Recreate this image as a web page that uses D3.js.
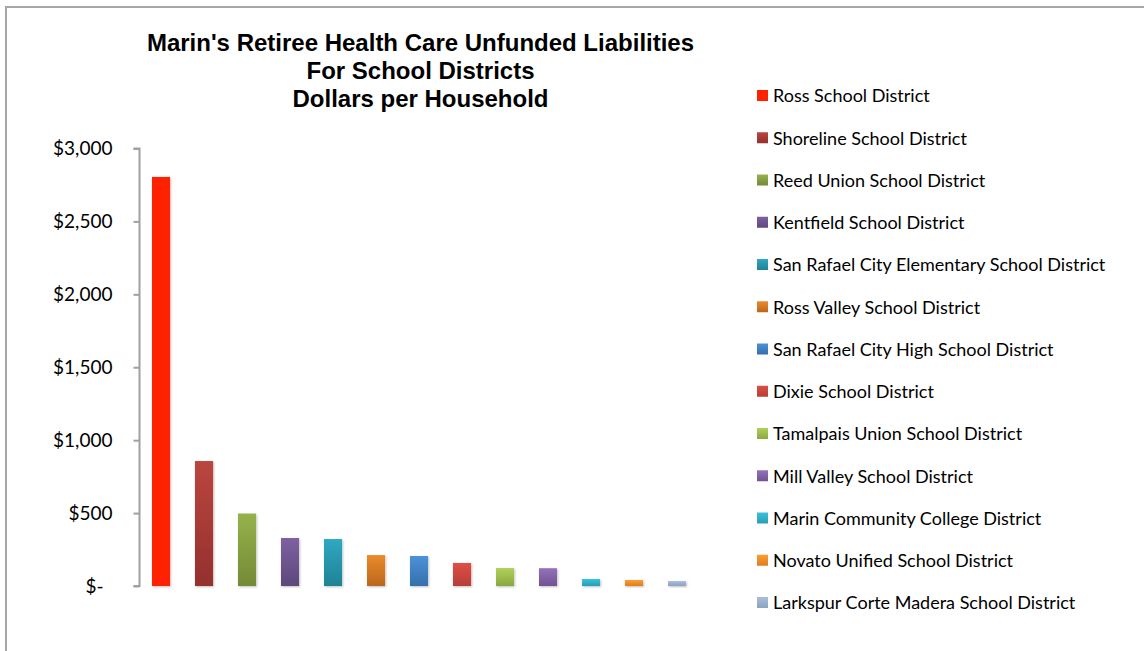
<!DOCTYPE html>
<html>
<head>
<meta charset="utf-8">
<script src="https://cdn.jsdelivr.net/npm/d3@7"></script>
<style>
  html, body { margin: 0; padding: 0; background: #fff; }
  svg { display: block; }
</style>
</head>
<body>
<svg id="chart" width="1144" height="651"></svg>
<script>
// ---- data ----
const categories = [
  "Ross School District",
  "Shoreline School District",
  "Reed Union School District",
  "Kentfield School District",
  "San Rafael City Elementary School District",
  "Ross Valley School District",
  "San Rafael City High School District",
  "Dixie School District",
  "Tamalpais Union School District",
  "Mill Valley School District",
  "Marin Community College District",
  "Novato Unified School District",
  "Larkspur Corte Madera School District"
];
const values = [2805, 857, 497, 329, 322, 212, 206, 158, 123, 122, 48, 41, 34];
const tickValues = [0, 500, 1000, 1500, 2000, 2500, 3000];
const tickLabels = ["$-", "$500", "$1,000", "$1,500", "$2,000", "$2,500", "$3,000"];
const titleLines = [
  "Marin's Retiree Health Care Unfunded Liabilities",
  "For School Districts",
  "Dollars per Household"
];
const colorsTop = ["#ff2200", "#bb463e", "#96b24c", "#7d61a0", "#30a8c2", "#ea8b2c", "#4c92d8", "#de4f46", "#b0d05a", "#9272ba", "#3ac2da", "#fc9d32", "#aabedc"];
const colorsBottom = ["#ff2200", "#94302e", "#748a36", "#5d487c", "#1f8294", "#bb661c", "#356fac", "#b63e38", "#8aa840", "#715393", "#289eb6", "#de7d1e", "#8da1c0"];

// ---- layout ----
const svg = d3.select("#chart");
const plot = { left: 139.5, right: 698.5, top: 148.5, bottom: 586 };

const x = d3.scaleBand()
  .domain(categories)
  .range([plot.left, plot.right])
  .paddingInner(0.58)
  .paddingOuter(0.29);

const y = d3.scaleLinear()
  .domain([0, 3000])
  .range([plot.bottom, plot.top]);

const defs = svg.append("defs");
categories.forEach((c, i) => {
  const g = defs.append("linearGradient")
    .attr("id", "grad" + i)
    .attr("x1", 0).attr("y1", 0).attr("x2", 0).attr("y2", 1);
  g.append("stop").attr("offset", "0%").attr("stop-color", colorsTop[i]);
  g.append("stop").attr("offset", "100%").attr("stop-color", colorsBottom[i]);
});
const f = defs.append("filter").attr("id", "shadow")
  .attr("x", "-30%").attr("y", "-30%").attr("width", "160%").attr("height", "160%");
f.append("feDropShadow").attr("dx", 1).attr("dy", 1).attr("stdDeviation", 1.2)
  .attr("flood-color", "#000").attr("flood-opacity", 0.25);

// outer frame
svg.append("rect")
  .attr("x", 6).attr("y", 7).attr("width", 1160).attr("height", 680)
  .attr("fill", "none").attr("stroke", "#a6a6a6").attr("stroke-width", 2);

// gridlines
const grid = svg.append("g")
  .attr("transform", `translate(${plot.left},0)`)
  .call(d3.axisLeft(y).tickValues(tickValues).tickSize(-(plot.right - plot.left)).tickFormat(""));
grid.select(".domain").remove();
grid.selectAll(".tick line")
  .attr("stroke", "#9c9c9c").attr("stroke-width", 2)
  .attr("filter", "url(#shadow)");

// y axis
const yAxis = svg.append("g")
  .attr("transform", `translate(${plot.left},0)`)
  .call(d3.axisLeft(y).tickValues(tickValues).tickSize(6).tickPadding(21)
    .tickFormat((d, i) => tickLabels[i]));
yAxis.select(".domain").attr("stroke", "#a0a0a0").attr("stroke-width", 2)
  .attr("d", `M-6,${plot.top}H0V${plot.bottom}H-6`);
yAxis.selectAll(".tick line").attr("stroke", "#a0a0a0").attr("stroke-width", 2);
yAxis.selectAll(".tick text")
  .attr("font-family", "Lato, 'Open Sans', sans-serif")
  .attr("font-size", 19)
  .attr("fill", "#000")
  .attr("dx", d => d === 0 ? -9 : 0);

// bars
svg.append("g").selectAll("rect")
  .data(values)
  .join("rect")
  .attr("x", (d, i) => x(categories[i]))
  .attr("y", d => y(d))
  .attr("width", x.bandwidth())
  .attr("height", d => y(0) - y(d))
  .attr("fill", (d, i) => `url(#grad${i})`)
  .attr("filter", "url(#shadow)");

// title
svg.append("g").selectAll("text")
  .data(titleLines)
  .join("text")
  .attr("x", 420.5)
  .attr("y", (d, i) => 51 + i * 28)
  .attr("text-anchor", "middle")
  .attr("font-family", "'Liberation Sans', Arial, sans-serif")
  .attr("font-weight", "bold")
  .attr("font-size", 24)
  .attr("fill", "#000")
  .text(d => d);

// legend
const legendY = d3.scalePoint().domain(categories).range([96, 603]);
const lg = svg.append("g").selectAll("g")
  .data(categories)
  .join("g")
  .attr("transform", d => `translate(757,${legendY(d)})`);
lg.append("rect")
  .attr("x", 0).attr("y", -6).attr("width", 11).attr("height", 11)
  .attr("fill", (d, i) => `url(#grad${i})`);
lg.append("text")
  .attr("x", 16).attr("y", 0)
  .attr("dy", "0.36em")
  .attr("font-family", "Lato, 'Open Sans', sans-serif")
  .attr("font-size", 18)
  .attr("fill", "#000")
  .text(d => d);
</script>
</body>
</html>
